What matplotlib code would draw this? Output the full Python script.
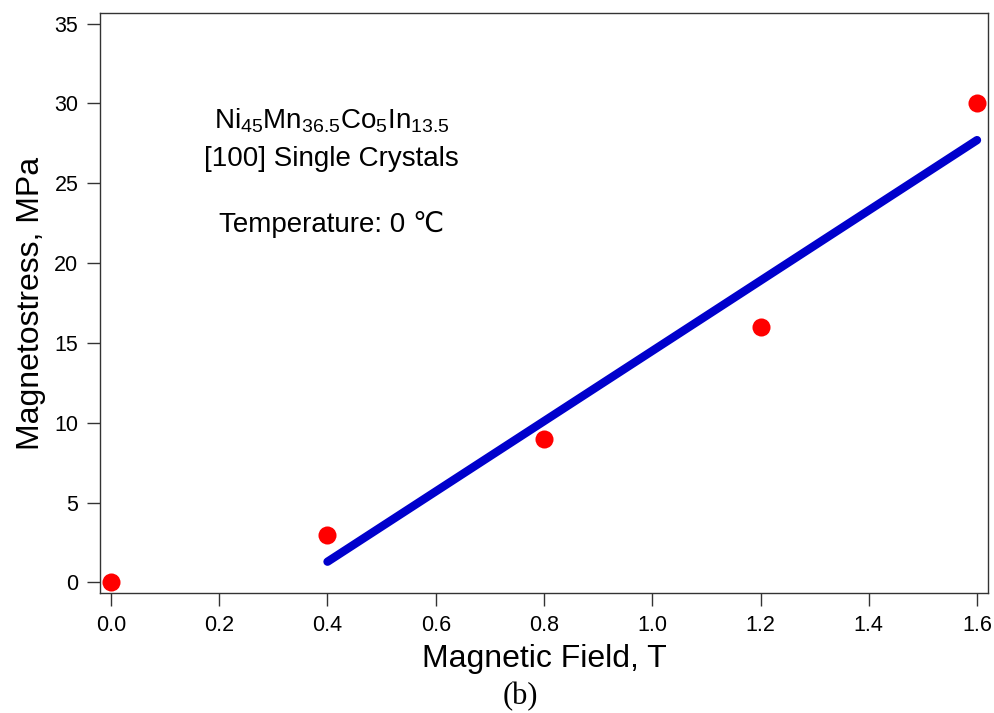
import numpy as np
import matplotlib
matplotlib.use("Agg")
import matplotlib.pyplot as plt

plt.rcParams["font.family"] = ["Liberation Sans", "DejaVu Sans"]
plt.rcParams["mathtext.fontset"] = "custom"
plt.rcParams["mathtext.rm"] = "Liberation Sans"
plt.rcParams["mathtext.default"] = "regular"

# Measured magnetostress vs applied field
field_T = [0.0, 0.4, 0.8, 1.2, 1.6]
stress_MPa = [0.0, 3.0, 9.0, 16.0, 30.0]

# Linear fit over the non-zero field points
fit_x = np.array(field_T[1:])
fit_y = np.array(stress_MPa[1:])
slope, intercept = np.polyfit(fit_x, fit_y, 1)

x_ticks = [0.0, 0.2, 0.4, 0.6, 0.8, 1.0, 1.2, 1.4, 1.6]
y_ticks = [0, 5, 10, 15, 20, 25, 30, 35]

fig = plt.figure(figsize=(9.95, 7.13), dpi=100)
ax = fig.add_axes([100 / 995, 1 - 593 / 713, 888 / 995, 580 / 713])

ax.plot(fit_x, slope * fit_x + intercept, color="#0000CC", lw=6,
        solid_capstyle="round", zorder=2)
ax.plot(field_T, stress_MPa, "o", color="#FF0000", ms=13, mec="none",
        zorder=3, clip_on=False)

ax.set_xlim(-0.0203, 1.6203)
ax.set_ylim(-0.66, 35.66)
ax.set_xticks(x_ticks)
ax.set_xticklabels([f"{v:.1f}" for v in x_ticks])
ax.set_yticks(y_ticks)
ax.set_yticklabels([str(v) for v in y_ticks])

for s in ax.spines.values():
    s.set_color("#333333")
    s.set_linewidth(1.0)
ax.tick_params(direction="out", length=9.5, width=1.0, color="#333333",
               labelsize=15.5, pad=6)

ax.set_xlabel("Magnetic Field, T", fontsize=23, labelpad=6)
ax.set_ylabel("Magnetostress, MPa", fontsize=23, labelpad=6)

tx = 0.408
ax.text(tx, 28.45, r"Ni$_{45}$Mn$_{36.5}$Co$_{5}$In$_{13.5}$", fontsize=20,
        ha="center", va="baseline")
ax.text(tx, 26.1, "[100] Single Crystals", fontsize=20,
        ha="center", va="baseline")
ax.text(tx, 21.95, "Temperature: 0 \u2103", fontsize=20,
        ha="center", va="baseline")

fig.text(520 / 995, 1 - 697 / 713, "(b)", fontsize=22,
         family="Liberation Serif", ha="center", va="center")

fig.savefig("out.png", dpi=100)
